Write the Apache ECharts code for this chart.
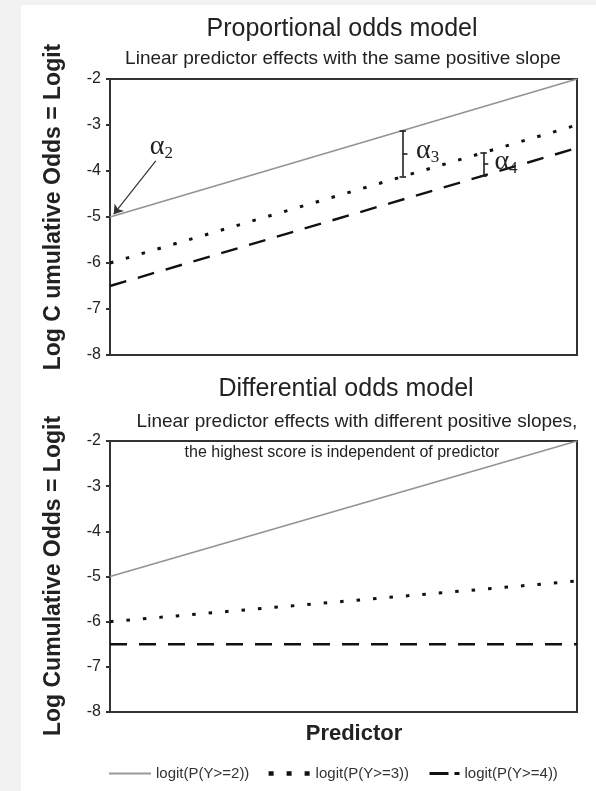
<!DOCTYPE html>
<html><head><meta charset="utf-8">
<script src="https://cdn.jsdelivr.net/npm/echarts@6/dist/echarts.min.js"></script>
<style>
html,body{margin:0;padding:0;background:#f2f2f2;overflow:hidden}
#bg{position:absolute;left:21px;top:5px;width:575px;height:786px;background:#fff}
#c{position:absolute;left:0;top:0;width:596px;height:791px}
</style>
</head><body><div id="bg"></div><div id="c"></div>
<script>
// ---- data ----
const predictorRange = [0, 1];
const topSolid  = [-5, -2];
const topDotted = [-6, -3];
const topDashed = [-6.5, -3.5];
const botSolid  = [-5, -2];
const botDotted = [-6, -5.1];
const botDashed = [-6.5, -6.5];
const yTickRange = [-8, -2];
const seriesNames = ['logit(P(Y>=2))', 'logit(P(Y>=3))', 'logit(P(Y>=4))'];
const alpha3X = 0.627, alpha4X = 0.80;

const FONT = 'Liberation Sans, Arial, sans-serif';
const pts = vals => predictorRange.map((x, i) => [x, vals[i]]);
const at = (vals, x) => vals[0] + (vals[1] - vals[0]) * x;

const solidStyle  = {color: '#939393', width: 1.6, type: 'solid'};
const dottedStyle = {color: '#111', width: 3, type: [3.5, 13]};
const dashedStyle = {color: '#111', width: 2.4, type: [17, 12]};

function bracket(x, yTop, yBot) {
  const c = 0.007, n = 0.01, m = (yTop + yBot) / 2;
  return [
    [{coord: [x, yTop]}, {coord: [x, yBot]}],
    [{coord: [x - c, yTop]}, {coord: [x + c, yTop]}],
    [{coord: [x - c, yBot]}, {coord: [x + c, yBot]}],
    [{coord: [x, m]}, {coord: [x + n, m]}]
  ];
}
const rich = {
  a: {fontFamily: 'Liberation Serif, serif', fontSize: 28, color: '#222'},
  s: {fontFamily: 'Liberation Serif, serif', fontSize: 17, color: '#222', verticalAlign: 'bottom', padding: [14, 0, 0, 0]}
};
function alphaLabel(x, y, n) {
  return {coord: [x, y], symbol: 'circle', symbolSize: 1, itemStyle: {color: 'rgba(0,0,0,0)'},
    label: {show: true, position: 'inside', formatter: '{a|α}{s|' + n + '}', rich}};
}

const yAxisBase = gi => ({
  type: 'value', gridIndex: gi, min: yTickRange[0], max: yTickRange[1], interval: 1,
  axisLine: {show: true, lineStyle: {color: '#333', width: 2}},
  axisTick: {show: true, length: 4, lineStyle: {color: '#333', width: 2}},
  axisLabel: {fontFamily: FONT, fontSize: 16, color: '#222', margin: 9},
  splitLine: {show: false}
});
const xAxisBase = gi => ({
  type: 'value', gridIndex: gi, min: predictorRange[0], max: predictorRange[1],
  axisLine: {show: true, lineStyle: {color: '#333', width: 2}},
  axisTick: {show: false}, axisLabel: {show: false}, splitLine: {show: false}
});
const txt = (text, x, y, size, extra) => Object.assign({type: 'text', x, y, z: 100,
  style: {text, font: size + 'px ' + FONT, fill: '#222', textAlign: 'center', textVerticalAlign: 'middle'}}, extra || {});
const boldTxt = (text, x, y, size, extra) => Object.assign({type: 'text', x, y, z: 100,
  style: {text, font: 'bold ' + size + 'px ' + FONT, fill: '#222', textAlign: 'center', textVerticalAlign: 'middle'}}, extra || {});

const legendText = {fontFamily: FONT, fontSize: 15, color: '#333'};
const chart = echarts.init(document.getElementById('c'), null, {renderer: 'canvas'});
chart.setOption({
  animation: false,
  backgroundColor: 'transparent',
  grid: [
    {left: 110, top: 79, width: 467, height: 276, show: true, borderColor: '#333', borderWidth: 2, backgroundColor: '#fff'},
    {left: 110, top: 441, width: 467, height: 271, show: true, borderColor: '#333', borderWidth: 2, backgroundColor: '#fff'}
  ],
  xAxis: [xAxisBase(0), xAxisBase(1)],
  yAxis: [yAxisBase(0), yAxisBase(1)],
  legend: [{
    left: 108, top: 766, padding: 0, itemWidth: 42, itemHeight: 10, itemGap: 17,
    itemStyle: {color: 'rgba(0,0,0,0)', borderWidth: 0},
    textStyle: legendText,
    data: [
      {name: seriesNames[0], lineStyle: {color: '#999', width: 2, type: 'solid'}},
      {name: seriesNames[1], lineStyle: {color: '#111', width: 4.5, type: [5, 13]}}
    ]
  }, {
    left: 428, top: 766, padding: 0, itemWidth: 30, itemHeight: 10, itemGap: 10,
    itemStyle: {color: 'rgba(0,0,0,0)', borderWidth: 0},
    textStyle: legendText,
    data: [
      {name: seriesNames[2], lineStyle: {color: '#111', width: 3, type: [19, 6, 5, 40]}}
    ]
  }],
  graphic: [
    txt('Proportional odds model', 342, 29, 25),
    txt('Linear predictor effects with the same positive slope', 343, 59, 19),
    txt('Differential odds model', 346, 389, 25),
    txt('Linear predictor effects with different positive slopes,', 357, 422, 19),
    txt('the highest score is independent of predictor', 342, 453, 16),
    boldTxt('Log C umulative Odds = Logit', 54, 207, 23, {rotation: Math.PI / 2}),
    boldTxt('Log Cumulative Odds = Logit', 54, 576, 23, {rotation: Math.PI / 2}),
    boldTxt('Predictor', 354, 734, 22)
  ],
  series: [
    {name: seriesNames[0], type: 'line', xAxisIndex: 0, yAxisIndex: 0, data: pts(topSolid), symbol: 'none', lineStyle: solidStyle, itemStyle: {color: solidStyle.color},
      markLine: {silent: true, symbol: ['none', 'arrow'], symbolSize: 9, label: {show: false}, lineStyle: {color: '#333', width: 1.2, type: 'solid'},
        data: [[{coord: [0.098, -3.78]}, {coord: [0.008, -4.94]}]]},
      markPoint: {silent: true, data: [alphaLabel(0.11, -3.46, 2), alphaLabel(0.68, -3.55, 3), alphaLabel(0.848, -3.8, 4)]}},
    {name: seriesNames[1], type: 'line', xAxisIndex: 0, yAxisIndex: 0, data: pts(topDotted), symbol: 'none', lineStyle: dottedStyle, itemStyle: {color: dottedStyle.color},
      markLine: {silent: true, symbol: 'none', label: {show: false}, lineStyle: {color: '#222', width: 1.6, type: 'solid'},
        data: bracket(alpha3X, at(topSolid, alpha3X), at(topDotted, alpha3X)).concat(bracket(alpha4X, at(topDotted, alpha4X), at(topDashed, alpha4X)))}},
    {name: seriesNames[2], type: 'line', xAxisIndex: 0, yAxisIndex: 0, data: pts(topDashed), symbol: 'none', lineStyle: dashedStyle, itemStyle: {color: dashedStyle.color}},
    {name: seriesNames[0], type: 'line', xAxisIndex: 1, yAxisIndex: 1, data: pts(botSolid), symbol: 'none', lineStyle: solidStyle, itemStyle: {color: solidStyle.color}},
    {name: seriesNames[1], type: 'line', xAxisIndex: 1, yAxisIndex: 1, data: pts(botDotted), symbol: 'none', lineStyle: dottedStyle, itemStyle: {color: dottedStyle.color}},
    {name: seriesNames[2], type: 'line', xAxisIndex: 1, yAxisIndex: 1, data: pts(botDashed), symbol: 'none', lineStyle: dashedStyle, itemStyle: {color: dashedStyle.color}}
  ]
});
</script>
</body></html>
